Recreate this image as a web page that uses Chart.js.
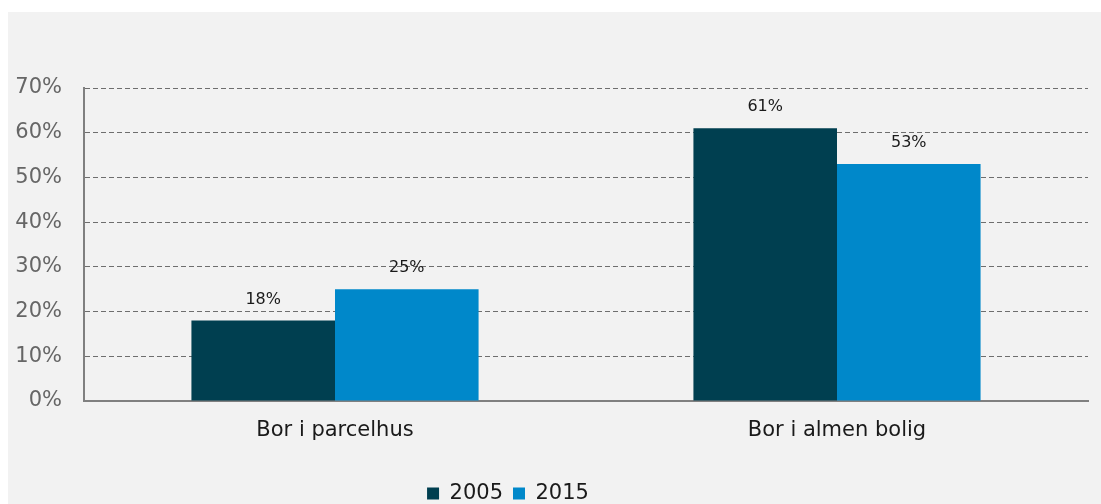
<!DOCTYPE html>
<html>
<head>
<meta charset="utf-8">
<script src="https://cdn.jsdelivr.net/npm/chart.js@4"></script>
<style>
  html, body { margin: 0; padding: 0; background: #ffffff; }
  #wrap {
    position: absolute; left: 8px; top: 12px;
    width: 1093px; height: 492px; overflow: hidden;
    background: #f2f2f2;
  }
  #box { position: relative; width: 1093px; height: 500px; }
</style>
</head>
<body>
<div id="wrap"><div id="box"><canvas id="barChart"></canvas></div></div>
<script>
  var categories = ['Bor i parcelhus', 'Bor i almen bolig'];
  var seriesNames = ['2005', '2015'];
  var values2005 = [18, 61];
  var values2015 = [25, 53];
  var yTicks = [0, 10, 20, 30, 40, 50, 60, 70];

  var FONT = '"DejaVu Sans", Verdana, sans-serif';

  // value labels above each bar
  var barLabels = {
    id: 'barLabels',
    afterDatasetsDraw: function (chart) {
      var ctx = chart.ctx;
      ctx.save();
      ctx.font = '16px ' + FONT;
      ctx.fillStyle = '#1a1a1a';
      ctx.textAlign = 'center';
      ctx.textBaseline = 'alphabetic';
      chart.data.datasets.forEach(function (ds, i) {
        chart.getDatasetMeta(i).data.forEach(function (bar, j) {
          ctx.fillText(ds.data[j] + '%', bar.x, bar.y - 17);
        });
      });
      ctx.restore();
    }
  };

  // legend sits left of centre in the original
  var legendShift = {
    id: 'legendShift',
    afterLayout: function (chart) {
      var lg = chart.legend;
      if (!lg) return;
      lg.left -= 40;
      lg.right -= 40;
      lg.top += 2;
      lg.bottom += 2;
    }
  };

  new Chart(document.getElementById('barChart'), {
    type: 'bar',
    data: {
      labels: categories,
      datasets: [{
        label: seriesNames[0],
        data: values2005,
        backgroundColor: '#003f50',
        categoryPercentage: 0.572,
        barPercentage: 1.0
      }, {
        label: seriesNames[1],
        data: values2015,
        backgroundColor: '#0088ca',
        categoryPercentage: 0.572,
        barPercentage: 1.0
      }]
    },
    options: {
      responsive: true,
      maintainAspectRatio: false,
      animation: false,
      layout: { padding: { top: 76, right: 13, left: 0, bottom: 0 } },
      plugins: {
        tooltip: { enabled: false },
        legend: {
          position: 'bottom',
          labels: {
            font: { family: FONT, size: 21 },
            color: '#1a1a1a',
            boxWidth: 12,
            boxHeight: 12,
            padding: 10
          }
        }
      },
      scales: {
        x: {
          grid: { display: false, drawTicks: false },
          border: { display: true, color: '#808080', width: 2 },
          ticks: {
            font: { family: FONT, size: 21 },
            color: '#1a1a1a',
            padding: 17
          },
          afterFit: function (scale) { scale.height = 70; }
        },
        y: {
          min: 0,
          max: 70,
          afterBuildTicks: function (scale) {
            scale.ticks = yTicks.map(function (v) { return { value: v }; });
          },
          grid: {
            color: function (c) { return c.tick && c.tick.value === 0 ? 'rgba(0,0,0,0)' : '#6e6e6e'; },
            lineWidth: 1,
            drawTicks: false
          },
          border: { display: true, color: '#808080', width: 2, dash: [5, 3], dashOffset: 0 },
          ticks: {
            font: { family: FONT, size: 21 },
            color: '#666666',
            padding: 22,
            callback: function (v) { return v + '%'; }
          },
          afterFit: function (scale) { scale.width = 76; }
        }
      }
    },
    plugins: [barLabels, legendShift]
  });
</script>
</body>
</html>
